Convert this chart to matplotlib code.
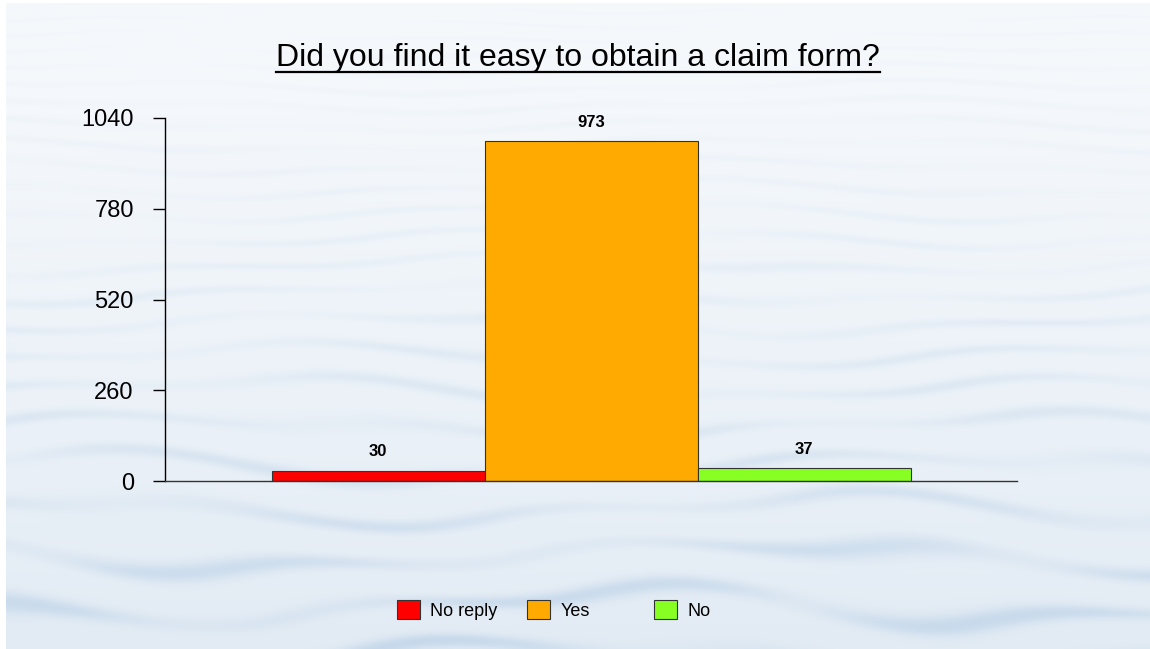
import numpy as np
import matplotlib
matplotlib.use("Agg")
import matplotlib.pyplot as plt
from matplotlib.patches import Patch
from matplotlib.lines import Line2D

categories = ["No reply", "Yes", "No"]
values = [30, 973, 37]
colors = ["#FF0000", "#FFAA00", "#88FF22"]
yticks = [0, 260, 520, 780, 1040]
title = "Did you find it easy to obtain a claim form?"

plt.rcParams['font.family'] = ['Liberation Sans', 'DejaVu Sans']

W, H = 1150, 649
fig = plt.figure(figsize=(W / 100, H / 100), dpi=100)
fig.patch.set_facecolor("white")

# background water-like texture (decorative)
bg = fig.add_axes([6 / W, 0, 1 - 6 / W, 1 - 3 / H])
bg.set_axis_off()
h, w = 323, 572
yy, xx = np.mgrid[0:h, 0:w].astype(float)
t = yy / h
top = np.array([246, 249, 252]) / 255.0
bot = np.array([226, 235, 244]) / 255.0
base = top[None, None, :] * (1 - t[..., None] ** 1.3) + bot[None, None, :] * (t[..., None] ** 1.3)
phase = 1.8 * np.sin(2 * np.pi * xx / 430 + yy / 31) + 0.9 * np.sin(2 * np.pi * xx / 170 - yy / 17)
streak = 0.5 + 0.5 * np.sin(2 * np.pi * yy / (7 + 7 * t) + phase)
mod = 0.5 + 0.5 * np.sin(2 * np.pi * xx / 260 + 3 * np.sin(yy / 23))
streak = np.clip(streak, 0, 1) ** 4 * (0.3 + 0.7 * mod)
amp = 0.015 + 0.11 * t ** 1.6
img = base - (streak * amp)[..., None] * np.array([0.9, 0.6, 0.3])[None, None, :]
bg.imshow(np.clip(img, 0, 1), aspect="auto", extent=[0, 1, 0, 1], interpolation="bilinear")
bg.set_zorder(0)

ax = fig.add_axes([165 / W, 1 - 481 / H, (1017 - 165) / W, (481 - 118) / H])
ax.set_zorder(1)
ax.patch.set_alpha(0)
x = np.arange(len(categories))
bars = ax.bar(x, values, width=1.0, color=colors, edgecolor="#333333", linewidth=0.8)
ax.set_xlim(-1, 3)
ax.set_ylim(0, 1040)
ax.set_yticks(yticks)
ax.set_yticklabels([str(v) for v in yticks], fontsize=17)
ax.tick_params(axis='y', direction='out', length=8.5, width=1, pad=14, colors="black")
ax.set_xticks([])
for s in ["top", "right"]:
    ax.spines[s].set_visible(False)
ax.spines["left"].set_color("black")
ax.spines["bottom"].set_color("#333333")
ax.spines["left"].set_linewidth(1)
ax.spines["bottom"].set_linewidth(1)

for xi, v in zip(x, values):
    ax.annotate(str(v), (xi, v), xytext=(0, 8), textcoords="offset points",
                ha="center", va="bottom", fontsize=12, fontweight="bold")

tt = fig.text(578 / W, 1 - 66 / H, title, ha="center", va="baseline", fontsize=23)
fig.canvas.draw()
bb = tt.get_window_extent()
uy = 1 - 71.5 / H
fig.add_artist(Line2D([bb.x0 / W, bb.x1 / W], [uy, uy], color="black", linewidth=1.6,
                      transform=fig.transFigure))

leg_x = [397, 527, 654]
for cat, col, lx in zip(categories, colors, leg_x):
    fig.legend(handles=[Patch(facecolor=col, edgecolor="#333333", linewidth=0.8)], labels=[cat],
               loc="center left", bbox_to_anchor=(lx / W, 1 - 610 / H), frameon=False,
               fontsize=13, handlelength=1.25, handleheight=1.25, handletextpad=0.6,
               borderpad=0, borderaxespad=0)

fig.savefig("out.png", dpi=100)
